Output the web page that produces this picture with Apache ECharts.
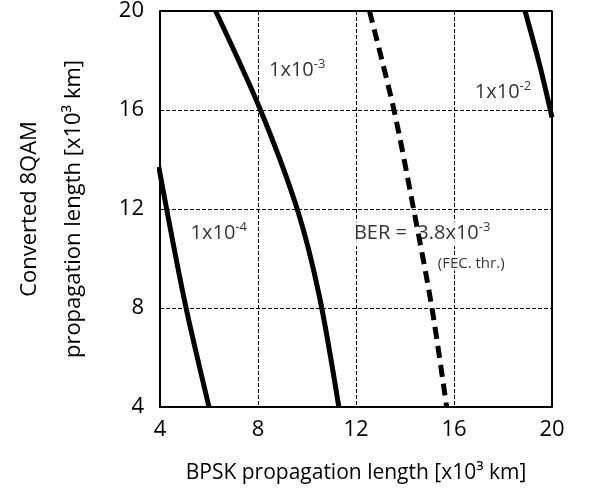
<!DOCTYPE html><html><head><meta charset="utf-8"><script src="https://cdn.jsdelivr.net/npm/echarts@6/dist/echarts.min.js"></script></head><body style="margin:0"><div id="c" style="width:600px;height:503px"></div><script>
const xTicks=[4,8,12,16,20];
const ber4=[[3.95,13.7],[5.0,8.3],[6.0,4]];
const ber3=[[6.27,20],[8.1,16],[9.6,12],[10.5,8.5],[11.3,4]];
const fec=[[12.55,20],[13.55,16],[14.35,12],[15.1,8],[15.7,4]];
const ber2=[[18.9,20],[19.5,17.8],[20,15.7]];
const labels=[{x:6.4,y:11.0,t:'1x10{s|-4}'},{x:9.6,y:17.6,t:'1x10{s|-3}'},{x:18.0,y:16.7,t:'1x10{s|-2}'},{x:14.7,y:11.0,t:'BER =  3.8x10{s|-3}'},{x:16.7,y:9.8,t:'{f|(FEC. thr.)}'}];
const ch=echarts.init(document.getElementById('c'));
const ax={fontSize:22,color:'#000',fontFamily:'Open Sans'};
const line=(d,dash)=>({type:'line',data:d,smooth:0.3,symbol:'none',lineStyle:{color:'#000',width:5,type:dash?[12,7]:'solid'},clip:true});
ch.setOption({animation:false,
grid:{left:150,right:48,top:6,bottom:96},
xAxis:{type:'value',min:4,max:20,interval:4,name:'BPSK propagation length [x10³ km]',nameLocation:'middle',nameGap:56,nameTextStyle:{fontSize:21,color:'#000',fontFamily:'Open Sans'},axisLabel:Object.assign({margin:12},ax),axisLine:{lineStyle:{color:'#000',width:2}},axisTick:{show:false},splitLine:{lineStyle:{color:'#000',type:'dashed',width:1}}},
yAxis:{type:'value',min:4,max:20,interval:4,name:'Converted 8QAM\npropagation length [x10³ km]',nameLocation:'middle',nameGap:64,nameTextStyle:{fontSize:22,color:'#000',fontFamily:'Open Sans',lineHeight:44},axisLabel:Object.assign({margin:16},ax),axisLine:{lineStyle:{color:'#000',width:2}},axisTick:{show:false},splitLine:{lineStyle:{color:'#000',type:'dashed',width:1}}},
series:[line(ber4),line(ber3),line(fec,true),line(ber2),
{type:'line',data:[[20,4],[20,20],[4,20]],symbol:'none',lineStyle:{color:'#000',width:2}},
{type:'scatter',symbolSize:0,data:labels.map(l=>({value:[l.x,l.y],t:l.t})),label:{show:true,position:'inside',align:'center',verticalAlign:'middle',formatter:p=>p.data.t,fontSize:20,color:'#000',fontFamily:'Open Sans',backgroundColor:'#fff',padding:[0,1],rich:{s:{fontSize:13,verticalAlign:'top',padding:[0,0,12,0]},f:{fontSize:15}}}}]});
</script></body></html>
